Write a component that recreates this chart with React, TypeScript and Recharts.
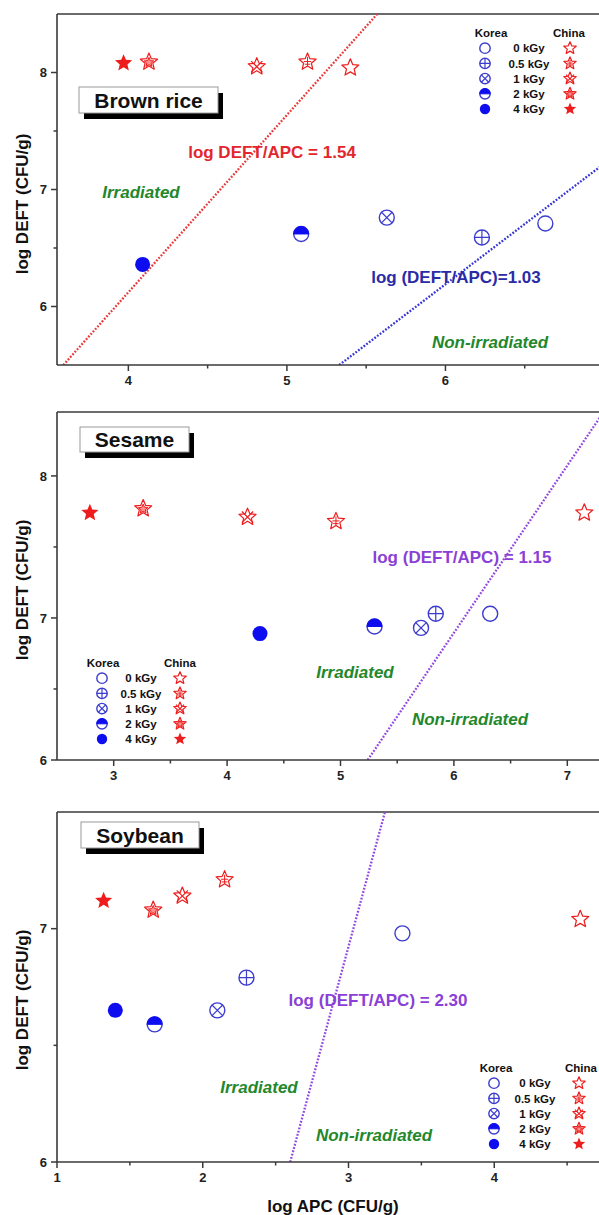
import React from "react";
import { ReferenceLine, Scatter, ScatterChart, XAxis, YAxis } from "recharts";

const FONT = "Arial, 'Liberation Sans', Helvetica, sans-serif";
const AXIS = "#3a3a3a";
const BLUE_FILL = "#0d0df0";
const BLUE_LINE = "#3c3cd0";
const RED = "#ee1c1c";
const RED_TEXT = "#e3262d";
const BLUE_TEXT = "#2b2ba6";
const PURPLE = "#8a3fd6";
const GREEN = "#23872b";

// dose order for every series: 0, 0.5, 1, 2, 4 kGy
const doses = ["0 kGy", "0.5 kGy", "1 kGy", "2 kGy", "4 kGy"];

// Brown rice
const riceKoreaApc = [6.63, 6.23, 5.63, 5.09, 4.09];
const riceKoreaDeft = [6.71, 6.59, 6.76, 6.62, 6.36];
const riceChinaApc = [5.4, 5.13, 4.81, 4.13, 3.97];
const riceChinaDeft = [8.04, 8.09, 8.05, 8.09, 8.08];
const riceIrrLine = [[3.59, 5.5], [5.57, 8.5]];
const riceNonLine = [[5.33, 5.5], [7.0, 7.22]];
const riceXTicks = [4, 4.5, 5, 5.5, 6, 6.5];
const riceYTicks = [6, 6.5, 7, 7.5, 8];

// Sesame
const sesameKoreaApc = [6.32, 5.84, 5.71, 5.3, 4.29];
const sesameKoreaDeft = [7.03, 7.03, 6.93, 6.94, 6.89];
const sesameChinaApc = [7.15, 4.96, 4.18, 3.26, 2.79];
const sesameChinaDeft = [7.74, 7.68, 7.71, 7.77, 7.74];
const sesameLine = [[5.24, 6], [7.32, 8.45]];
const sesameXTicks = [3, 3.5, 4, 4.5, 5, 5.5, 6, 6.5, 7];
const sesameYTicks = [6, 6.5, 7, 7.5, 8];

// Soybean
const soyKoreaApc = [3.37, 2.3, 2.1, 1.67, 1.4];
const soyKoreaDeft = [6.98, 6.79, 6.65, 6.59, 6.65];
const soyChinaApc = [4.59, 2.15, 1.86, 1.66, 1.32];
const soyChinaDeft = [7.04, 7.21, 7.14, 7.08, 7.12];
const soyLine = [[2.6, 6], [3.25, 7.5]];
const soyXTicks = [1, 1.5, 2, 2.5, 3, 3.5, 4, 4.5];
const soyYTicks = [6, 6.5, 7];

const rows = (xs: number[], ys: number[]) => xs.map((x, i) => ({ x, y: ys[i], dose: i }));

function starPath(cx: number, cy: number, R: number, ratio = 0.45) {
  let d = "";
  for (let i = 0; i < 10; i++) {
    const rr = i % 2 === 0 ? R : R * ratio;
    const a = -Math.PI / 2 + (i * Math.PI) / 5;
    d += (i === 0 ? "M" : "L") + (cx + rr * Math.cos(a)).toFixed(2) + "," + (cy + rr * Math.sin(a)).toFixed(2);
  }
  return d + "Z";
}

function KoreaSymbol({ cx, cy, dose, r }: { cx: number; cy: number; dose: number; r: number }) {
  if (dose === 4) return <circle cx={cx} cy={cy} r={r} fill={BLUE_FILL} />;
  const k = r * 0.7071;
  return (
    <g>
      <circle cx={cx} cy={cy} r={r} fill="#fff" stroke={BLUE_LINE} strokeWidth={1.4} />
      {dose === 1 && (
        <path d={`M${cx - r},${cy}H${cx + r}M${cx},${cy - r}V${cy + r}`} stroke={BLUE_LINE} strokeWidth={1.2} />
      )}
      {dose === 2 && (
        <path
          d={`M${cx - k},${cy - k}L${cx + k},${cy + k}M${cx + k},${cy - k}L${cx - k},${cy + k}`}
          stroke={BLUE_LINE}
          strokeWidth={1.2}
        />
      )}
      {dose === 3 && (
        <path d={`M${cx - r},${cy}A${r},${r} 0 0 1 ${cx + r},${cy}Z`} fill={BLUE_FILL} stroke={BLUE_FILL} strokeWidth={1} />
      )}
    </g>
  );
}

function ChinaSymbol({ cx, cy, dose, R }: { cx: number; cy: number; dose: number; R: number }) {
  if (dose === 4) return <path d={starPath(cx, cy, R)} fill={RED} />;
  const k = R * 0.62;
  return (
    <g>
      <path d={starPath(cx, cy, R)} fill="#fff" stroke={RED} strokeWidth={1.2} strokeLinejoin="round" />
      {dose === 1 && (
        <path
          d={`M${cx - R * 0.4},${cy - R * 0.05}H${cx + R * 0.4}M${cx - R * 0.3},${cy + R * 0.25}H${cx + R * 0.3}M${cx},${cy - R * 0.55}V${cy + R * 0.45}`}
          stroke={RED}
          strokeWidth={1}
        />
      )}
      {dose === 2 && (
        <path
          d={`M${cx - k},${cy - k}L${cx + k},${cy + k}M${cx + k},${cy - k}L${cx - k},${cy + k}`}
          stroke={RED}
          strokeWidth={1.2}
        />
      )}
      {dose === 3 && <path d={starPath(cx, cy + R * 0.05, R * 0.55)} fill="#ff9090" stroke={RED} strokeWidth={1} />}
    </g>
  );
}

const koreaShape = (p: any) => <KoreaSymbol cx={p.cx} cy={p.cy} dose={p.payload?.dose ?? p.dose} r={7.5} />;
const chinaShape = (p: any) => <ChinaSymbol cx={p.cx} cy={p.cy} dose={p.payload?.dose ?? p.dose} R={9} />;

function makeTick(axis: "x" | "y") {
  return (props: any) => {
    const { x, y, payload } = props;
    const v = payload.value;
    const major = Number.isInteger(v);
    const len = major ? 6 : 3.5;
    if (axis === "y") {
      return (
        <g>
          <line x1={x} x2={x - len} y1={y} y2={y} stroke={AXIS} strokeWidth={1.5} />
          {major && (
            <text x={x - 10} y={y} dy="0.36em" textAnchor="end" fontFamily={FONT} fontWeight="bold" fontSize={13} fill="#222">
              {v}
            </text>
          )}
        </g>
      );
    }
    return (
      <g>
        <line x1={x} x2={x} y1={y} y2={y + len} stroke={AXIS} strokeWidth={1.5} />
        {major && (
          <text x={x} y={y + 11} dy="0.71em" textAnchor="middle" fontFamily={FONT} fontWeight="bold" fontSize={13} fill="#222">
            {v}
          </text>
        )}
      </g>
    );
  };
}

type Line = { pts: number[][]; color: string };

function Panel(props: {
  top: number;
  width: number;
  height: number;
  plotTop: number;
  plotBottom: number;
  marginRight: number;
  xDomain: [number, number];
  yDomain: [number, number];
  xTicks: number[];
  yTicks: number[];
  korea: { x: number; y: number; dose: number }[];
  china: { x: number; y: number; dose: number }[];
  lines: Line[];
}) {
  const { top, width, height, plotTop, plotBottom, marginRight, xDomain, yDomain } = props;
  return (
    <div style={{ position: "absolute", left: 0, top }}>
      <ScatterChart
        width={width}
        height={height}
        margin={{ top: plotTop - top, right: marginRight, bottom: 0, left: 0 }}
      >
        <XAxis
          type="number"
          dataKey="x"
          domain={xDomain}
          ticks={props.xTicks}
          interval={0}
          allowDataOverflow
          height={top + height - plotBottom}
          tickSize={0}
          tickMargin={0}
          tickLine={false}
          axisLine={{ stroke: AXIS, strokeWidth: 1.6 }}
          tick={makeTick("x")}
        />
        <YAxis
          type="number"
          dataKey="y"
          domain={yDomain}
          ticks={props.yTicks}
          interval={0}
          allowDataOverflow
          width={57}
          tickSize={0}
          tickMargin={0}
          tickLine={false}
          axisLine={{ stroke: AXIS, strokeWidth: 1.6 }}
          tick={makeTick("y")}
        />
        <ReferenceLine y={yDomain[1]} stroke={AXIS} strokeWidth={1.6} ifOverflow="visible" />
        <ReferenceLine x={xDomain[1]} stroke={AXIS} strokeWidth={1.6} ifOverflow="visible" />
        {props.lines.map((l, i) => (
          <ReferenceLine
            key={i}
            segment={[
              { x: l.pts[0][0], y: l.pts[0][1] },
              { x: l.pts[1][0], y: l.pts[1][1] },
            ]}
            stroke={l.color}
            strokeWidth={2.3}
            strokeDasharray="1.8 1.6"
            ifOverflow="hidden"
          />
        ))}
        <Scatter data={props.korea} shape={koreaShape} isAnimationActive={false} />
        <Scatter data={props.china} shape={chinaShape} isAnimationActive={false} />
      </ScatterChart>
    </div>
  );
}

function TitleBox({ x, y, w, h, text }: { x: number; y: number; w: number; h: number; text: string }) {
  return (
    <g>
      <rect x={x + 5} y={y + 6} width={w} height={h} fill="#000" />
      <rect x={x} y={y} width={w} height={h} fill="#fff" stroke="#9a9a9a" strokeWidth={1} />
      <text x={x + w / 2} y={y + h / 2} dy="0.36em" textAnchor="middle" fontSize={21} fill="#111">
        {text}
      </text>
    </g>
  );
}

function DoseLegend({ x0, y0, koreaDx, labelDx, chinaDx, starDx }: { x0: number; y0: number; koreaDx: number; labelDx: number; chinaDx: number; starDx: number }) {
  return (
    <g fontSize={11.5} fill="#111">
      <text x={x0 + koreaDx} y={y0} dy="0.36em" textAnchor="middle">Korea</text>
      <text x={x0 + chinaDx} y={y0} dy="0.36em" textAnchor="middle">China</text>
      {doses.map((d, i) => {
        const cy = y0 + 15.2 * (i + 1);
        return (
          <g key={d}>
            <KoreaSymbol cx={x0} cy={cy} dose={i} r={5.2} />
            <text x={x0 + labelDx} y={cy} dy="0.36em" textAnchor="middle">{d}</text>
            <ChinaSymbol cx={x0 + starDx} cy={cy} dose={i} R={6.5} />
          </g>
        );
      })}
    </g>
  );
}

function Label({ x, y, text, color, italic, size = 17 }: { x: number; y: number; text: string; color: string; italic?: boolean; size?: number }) {
  return (
    <text x={x} y={y} dy="0.36em" textAnchor="middle" fill={color} fontSize={size} fontStyle={italic ? "italic" : "normal"}>
      {text}
    </text>
  );
}

function YTitle({ y }: { y: number }) {
  return (
    <text x={22} y={y} transform={`rotate(-90 22 ${y})`} dy="0.36em" textAnchor="middle" fontSize={17} fill="#111">
      log DEFT (CFU/g)
    </text>
  );
}

export default function App() {
  return (
    <div style={{ position: "absolute", left: 0, top: 0, width: 599, height: 1215, overflow: "hidden", background: "#fff" }}>
      <Panel
        top={0}
        width={640}
        height={400}
        plotTop={14}
        plotBottom={365}
        marginRight={36}
        xDomain={[3.55, 7.0]}
        yDomain={[5.5, 8.5]}
        xTicks={riceXTicks}
        yTicks={riceYTicks}
        korea={rows(riceKoreaApc, riceKoreaDeft)}
        china={rows(riceChinaApc, riceChinaDeft)}
        lines={[
          { pts: riceIrrLine, color: "#e83a3a" },
          { pts: riceNonLine, color: "#3535d5" },
        ]}
      />
      <Panel
        top={398}
        width={660}
        height={400}
        plotTop={412}
        plotBottom={760}
        marginRight={36}
        xDomain={[2.5, 7.5]}
        yDomain={[6, 8.45]}
        xTicks={sesameXTicks}
        yTicks={sesameYTicks}
        korea={rows(sesameKoreaApc, sesameKoreaDeft)}
        china={rows(sesameChinaApc, sesameChinaDeft)}
        lines={[{ pts: sesameLine, color: "#9348e0" }]}
      />
      <Panel
        top={798}
        width={660}
        height={400}
        plotTop={812}
        plotBottom={1162}
        marginRight={20}
        xDomain={[1, 5]}
        yDomain={[6, 7.5]}
        xTicks={soyXTicks}
        yTicks={soyYTicks}
        korea={rows(soyKoreaApc, soyKoreaDeft)}
        china={rows(soyChinaApc, soyChinaDeft)}
        lines={[{ pts: soyLine, color: "#9348e0" }]}
      />
      <svg
        width={599}
        height={1215}
        style={{ position: "absolute", left: 0, top: 0, pointerEvents: "none" }}
        fontFamily={FONT}
        fontWeight="bold"
      >
        <TitleBox x={79} y={87} w={139} h={26} text="Brown rice" />
        <TitleBox x={80} y={427} w={109} h={25} text="Sesame" />
        <TitleBox x={81} y={822} w={118} h={26} text="Soybean" />

        <YTitle y={204} />
        <YTitle y={590} />
        <YTitle y={1000} />
        <text x={333} y={1206} dy="0.36em" textAnchor="middle" fontSize={17} fill="#111">
          log APC (CFU/g)
        </text>

        <Label x={272} y={152} text="log DEFT/APC = 1.54" color={RED_TEXT} />
        <Label x={141} y={192} text="Irradiated" color={GREEN} italic />
        <Label x={456} y={277} text="log (DEFT/APC)=1.03" color={BLUE_TEXT} />
        <Label x={490} y={342} text="Non-irradiated" color={GREEN} italic />

        <Label x={462} y={557} text="log (DEFT/APC) = 1.15" color={PURPLE} />
        <Label x={355} y={672} text="Irradiated" color={GREEN} italic />
        <Label x={470} y={719} text="Non-irradiated" color={GREEN} italic />

        <Label x={378} y={1000} text="log (DEFT/APC) = 2.30" color={PURPLE} />
        <Label x={259} y={1087} text="Irradiated" color={GREEN} italic />
        <Label x={374} y={1135} text="Non-irradiated" color={GREEN} italic />

        <DoseLegend x0={485} y0={33} koreaDx={6} labelDx={44} chinaDx={84} starDx={85} />
        <DoseLegend x0={102} y0={663} koreaDx={1} labelDx={39} chinaDx={78} starDx={78} />
        <DoseLegend x0={494} y0={1068} koreaDx={2} labelDx={41} chinaDx={87} starDx={85} />
      </svg>
    </div>
  );
}
